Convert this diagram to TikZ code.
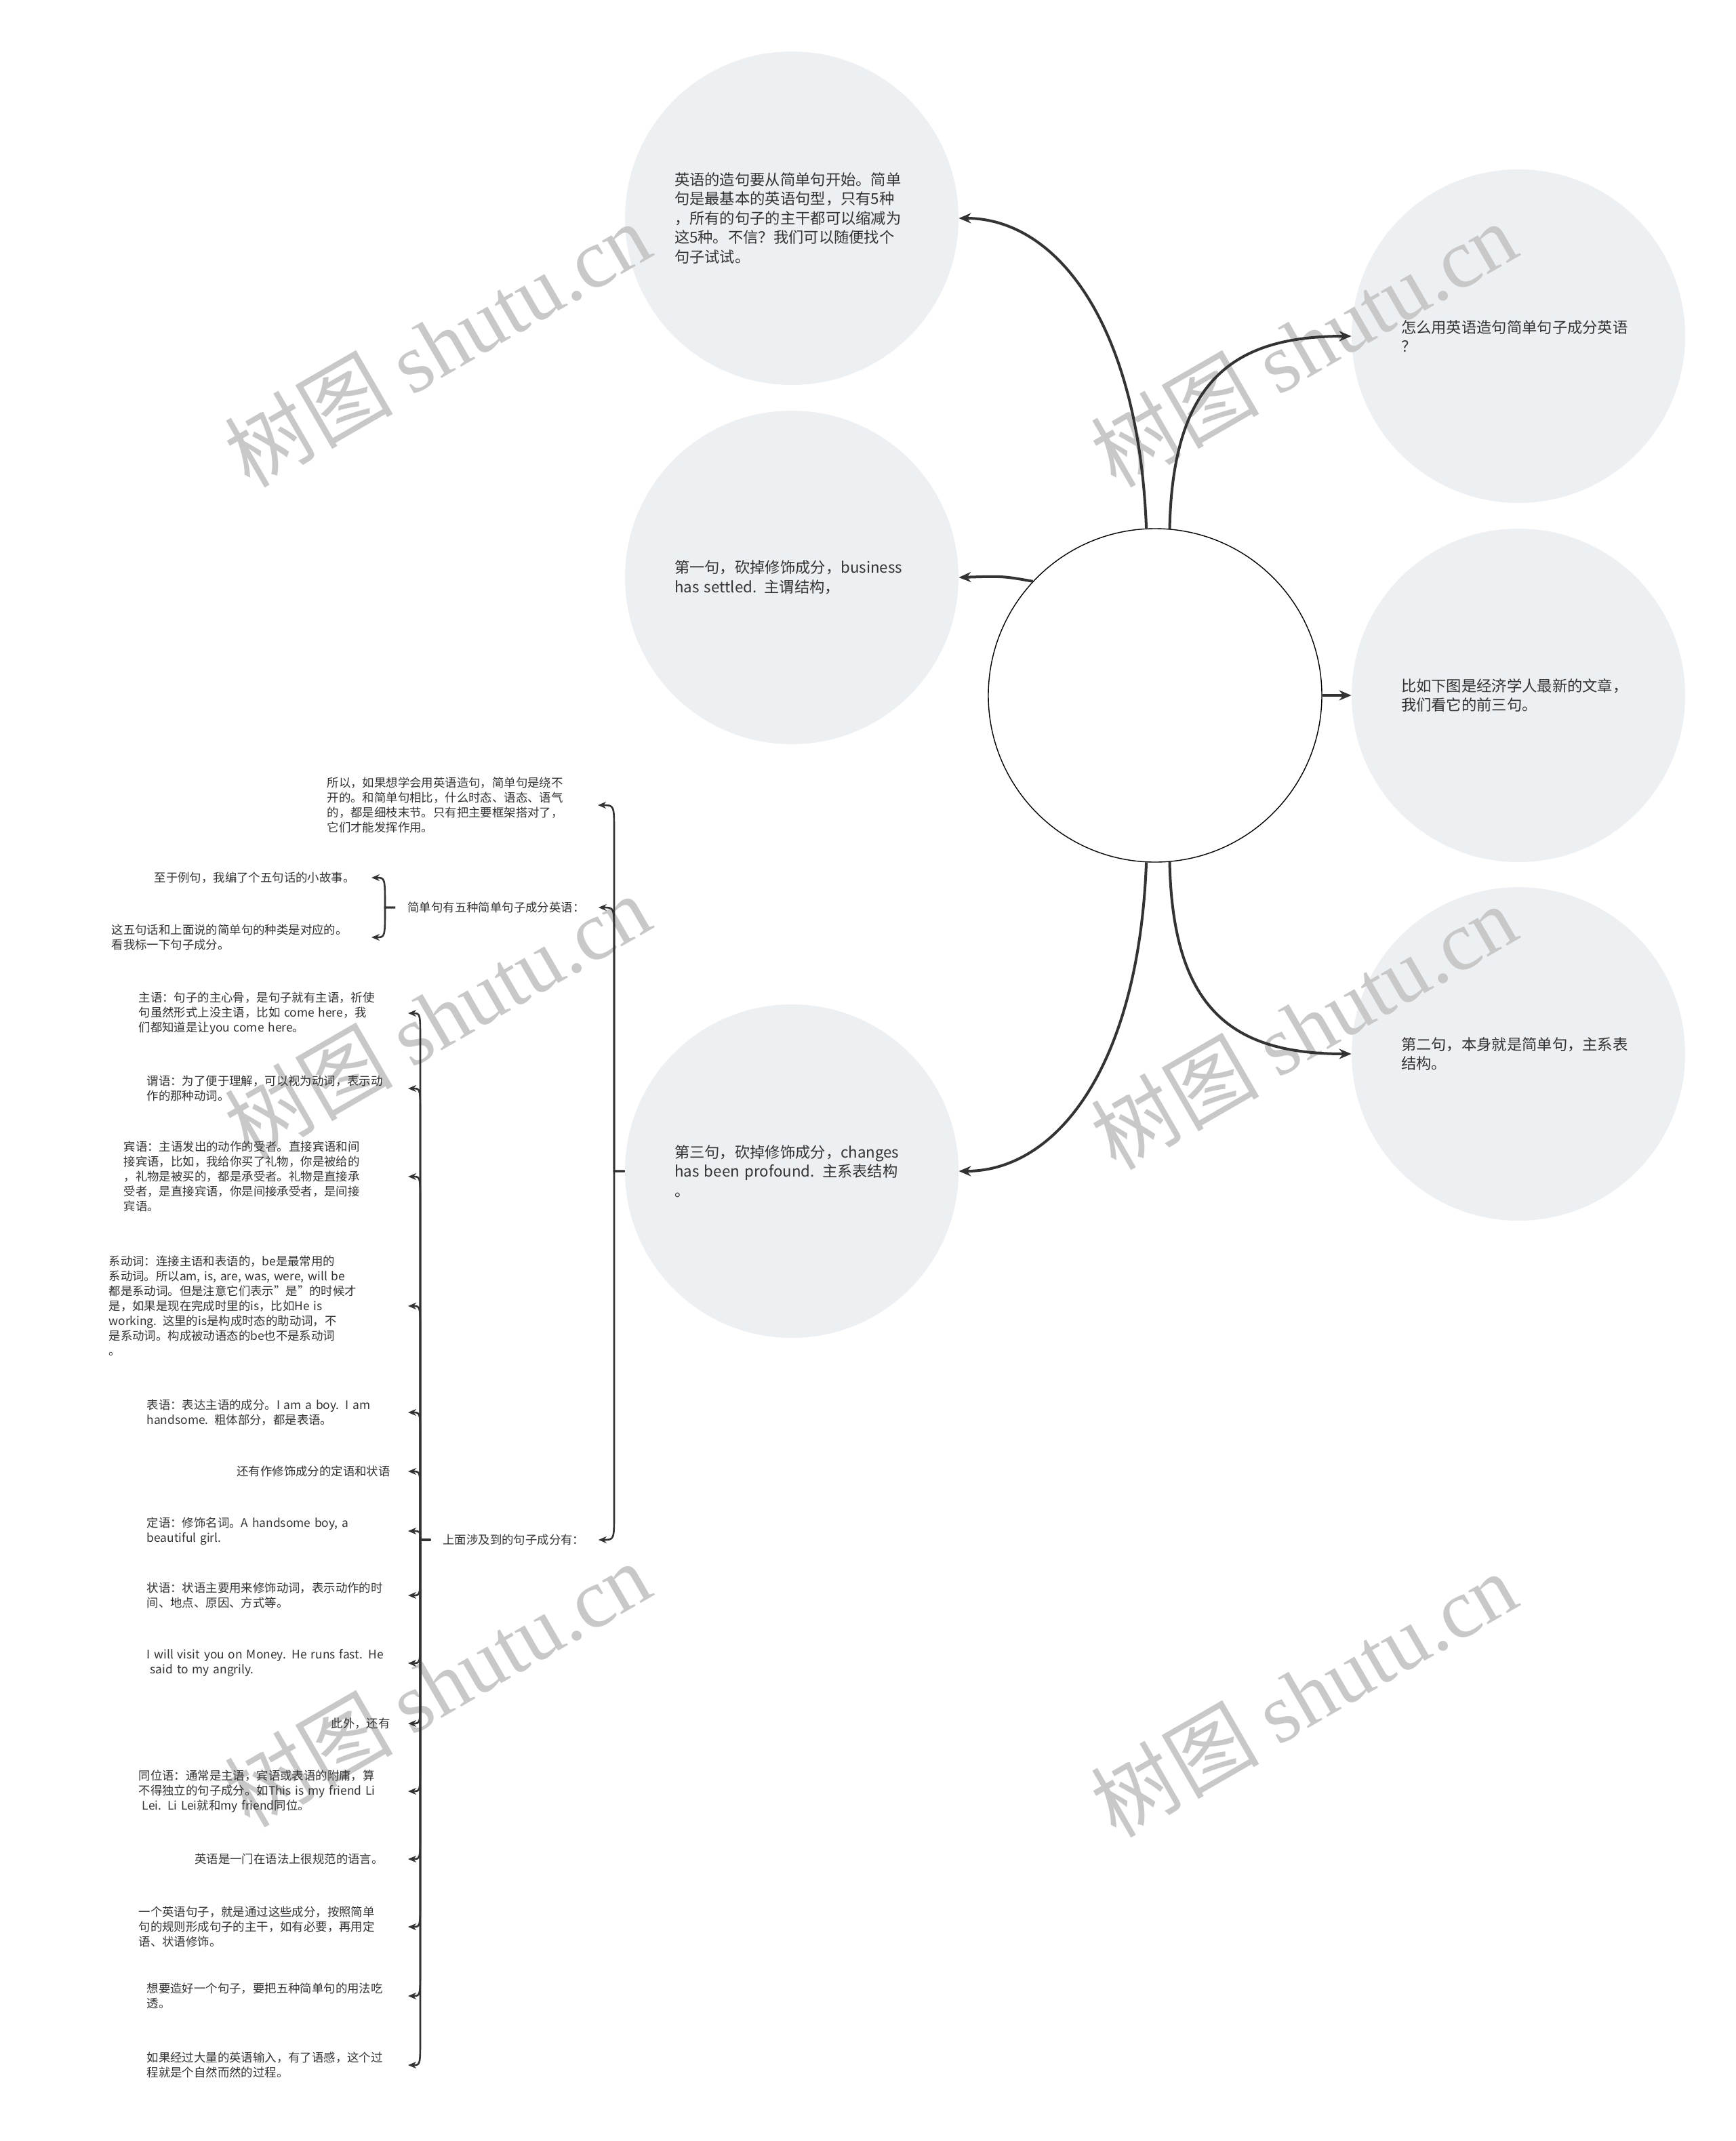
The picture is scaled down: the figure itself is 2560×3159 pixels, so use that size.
\documentclass[tikz,border=0pt]{standalone}
\usepackage{fontspec}
\setmainfont{Noto Sans CJK SC}
\newfontfamily\wmcjk{Noto Sans CJK SC}
\newfontfamily\wmlatin{Liberation Serif}
\usetikzlibrary{arrows.meta}
\pgfdeclarelayer{bglayer}
\pgfdeclarelayer{wmlayer}
\pgfsetlayers{bglayer,wmlayer,main}
\definecolor{bubblefill}{RGB}{237,240,243}
\definecolor{ink}{RGB}{51,51,51}
\definecolor{wmgray}{RGB}{200,200,200}
\begin{document}
\begin{tikzpicture}[x=0.5pt,y=-0.5pt,
  bubble/.style={circle, minimum size=246pt, inner sep=0pt, text width=173pt, align=left, text=ink, font=\fontsize{11.15pt}{14.25pt}\selectfont},
  hubnode/.style={circle, draw=black, line width=0.7pt, fill=white, minimum size=246pt, inner sep=0pt},
  leaf/.style={inner sep=0pt, text=ink, font=\fontsize{8.7pt}{11pt}\selectfont, align=left},
  leafr/.style={inner ysep=0pt, text=ink, font=\fontsize{8.7pt}{11pt}\selectfont, align=right},
  conn/.style={draw=ink, line width=2pt, -{Stealth[length=9pt,width=7.5pt]}},
  brk/.style={draw=ink, line width=1.3pt, -{Stealth[length=6pt,width=5pt]}},
  wmark/.style={text=wmgray, rotate=30, font=\fontsize{62pt}{62pt}\selectfont, inner sep=0pt}
]
\useasboundingbox (0,0) rectangle (2560,3159);
\begin{pgfonlayer}{bglayer}
\fill[white] (0,0) rectangle (2560,3159);
\end{pgfonlayer}

% central circle
\node[hubnode] (cc) at (1704,1026) {};

% satellite circles
\node[bubble] (c1) at (1168,322) {英语的造句要从简单句开始。简单\\句是最基本的英语句型，只有5种\\，所有的句子的主干都可以缩减为\\这5种。不信？我们可以随便找个\\句子试试。};
\node[bubble] (c2) at (1168,852) {第一句，砍掉修饰成分，business\\has settled. 主谓结构，};
\node[bubble] (c3) at (1168,1728) {第三句，砍掉修饰成分，changes\\has been profound. 主系表结构\\。};
\node[bubble] (c4) at (2240,496) {怎么用英语造句简单句子成分英语\\？};
\node[bubble] (c5) at (2240,1026) {比如下图是经济学人最新的文章，\\我们看它的前三句。};
\node[bubble] (c6) at (2240,1555) {第二句，本身就是简单句，主系表\\结构。};

\begin{pgfonlayer}{bglayer}
\foreach \c in {c1,c2,c3,c4,c5,c6}
  \fill[bubblefill] (\c.center) circle[radius=123pt];
\end{pgfonlayer}

% central connectors
\draw[conn] (cc.93) .. controls (1680,480) and (1560,322) .. (c1.east);
\draw[conn] (cc.137) .. controls (1480,850) .. (c2.east);
\draw[conn] (cc.267) .. controls (1680,1572) and (1560,1728) .. (c3.east);
\draw[conn] (cc.85) .. controls (1730,560) and (1820,496) .. (c4.west);
\draw[conn] (cc.east) -- (c5.west);
\draw[conn] (cc.275) .. controls (1730,1492) and (1820,1555) .. (c6.west);

% first level of the left tree
\node[leaf, anchor=east, text width=199.5pt] (so) at (882,1188) {所以，如果想学会用英语造句，简单句是绕不\\开的。和简单句相比，什么时态、语态、语气\\的，都是细枝末节。只有把主要框架搭对了，\\它们才能发挥作用。};
\node[leaf, anchor=west, inner xsep=9pt, text width=131.5pt] (pa) at (583,1339) {简单句有五种简单句子成分英语：};
\node[leaf, anchor=west, inner xsep=9pt, text width=105.5pt] (pb) at (635,2272) {上面涉及到的句子成分有：};

\draw[brk] (c3.west) -- (906,1728) -- (906,1228) .. controls (906,1188) .. (so.east);
\draw[brk] (c3.west) -- (906,1728) -- (906,1379) .. controls (906,1339) .. (pa.east);
\draw[brk] (c3.west) -- (906,1728) -- (906,2232) .. controls (906,2272) .. (pb.east);

% children of pa
\node[leaf, anchor=east, text width=160pt] (a1) at (548,1295) {至于例句，我编了个五句话的小故事。};
\node[leaf, anchor=east, text width=191.5pt] (a2) at (548,1383) {这五句话和上面说的简单句的种类是对应的。\\看我标一下句子成分。};
\draw[brk] (pa.west) -- (568,1339) .. controls (568,1295) .. (a1.east);
\draw[brk] (pa.west) -- (568,1339) .. controls (568,1383) .. (a2.east);

% children of pb
\node[leaf, anchor=east, text width=198.5pt] (b1) at (602,1495) {主语：句子的主心骨，是句子就有主语，祈使\\句虽然形式上没主语，比如 come here，我\\们都知道是让you come here。};
\node[leaf, anchor=east, text width=192.5pt] (b2) at (602,1606) {谓语：为了便于理解，可以视为动词，表示动\\作的那种动词。};
\node[leaf, anchor=east, text width=209.5pt] (b3) at (602,1736) {宾语：主语发出的动作的受者。直接宾语和间\\接宾语，比如，我给你买了礼物，你是被给的\\，礼物是被买的，都是承受者。礼物是直接承\\受者，是直接宾语，你是间接承受者，是间接\\宾语。};
\node[leaf, anchor=east, text width=220.5pt] (b4) at (602,1927) {系动词：连接主语和表语的，be是最常用的\\系动词。所以am, is, are, was, were, will be\\都是系动词。但是注意它们表示"是"的时候才\\是，如果是现在完成时里的is，比如He is\\working. 这里的is是构成时态的助动词，不\\是系动词。构成被动语态的be也不是系动词\\。};
\node[leaf, anchor=east, text width=192.5pt] (b5) at (602,2084) {表语：表达主语的成分。I am a boy. I am\\handsome. 粗体部分，都是表语。};
\node[leafr, anchor=east, inner xsep=13pt] (b6) at (602,2171) {还有作修饰成分的定语和状语};
\node[leaf, anchor=east, text width=192.5pt] (b7) at (602,2259) {定语：修饰名词。A handsome boy, a\\beautiful girl.};
\node[leaf, anchor=east, text width=192.5pt] (b8) at (602,2354) {状语：状语主要用来修饰动词，表示动作的时\\间、地点、原因、方式等。};
\node[leaf, anchor=east, text width=192.5pt] (b9) at (602,2454) {I will visit you on Money. He runs fast. He\\\hspace*{0.3em}said to my angrily.};
\node[leafr, anchor=east, inner xsep=13pt] (b10) at (602,2543) {此外，还有};
\node[leaf, anchor=east, text width=198.5pt] (b11) at (602,2643) {同位语：通常是主语，宾语或表语的附庸，算\\不得独立的句子成分。如This is my friend Li\\\hspace*{0.3em}Lei. Li Lei就和my friend同位。};
\node[leafr, anchor=east, inner xsep=18pt] (b12) at (602,2743) {英语是一门在语法上很规范的语言。};
\node[leaf, anchor=east, text width=198.5pt] (b13) at (602,2843) {一个英语句子，就是通过这些成分，按照简单\\句的规则形成句子的主干，如有必要，再用定\\语、状语修饰。};
\node[leaf, anchor=east, text width=192.5pt] (b14) at (602,2945) {想要造好一个句子，要把五种简单句的用法吃\\透。};
\node[leaf, anchor=east, text width=192.5pt] (b15) at (602,3047) {如果经过大量的英语输入，有了语感，这个过\\程就是个自然而然的过程。};

\draw[brk] (pb.west) -- (620,2272) -- (620,1535) .. controls (620,1495) .. (b1.east);
\draw[brk] (pb.west) -- (620,2272) -- (620,1646) .. controls (620,1606) .. (b2.east);
\draw[brk] (pb.west) -- (620,2272) -- (620,1776) .. controls (620,1736) .. (b3.east);
\draw[brk] (pb.west) -- (620,2272) -- (620,1967) .. controls (620,1927) .. (b4.east);
\draw[brk] (pb.west) -- (620,2272) -- (620,2124) .. controls (620,2084) .. (b5.east);
\draw[brk] (pb.west) -- (620,2272) -- (620,2211) .. controls (620,2171) .. (b6.east);
\draw[brk] (pb.west) -- (620,2272) .. controls (620,2259) .. (b7.east);
\draw[brk] (pb.west) -- (620,2272) -- (620,2314) .. controls (620,2354) .. (b8.east);
\draw[brk] (pb.west) -- (620,2272) -- (620,2414) .. controls (620,2454) .. (b9.east);
\draw[brk] (pb.west) -- (620,2272) -- (620,2503) .. controls (620,2543) .. (b10.east);
\draw[brk] (pb.west) -- (620,2272) -- (620,2603) .. controls (620,2643) .. (b11.east);
\draw[brk] (pb.west) -- (620,2272) -- (620,2703) .. controls (620,2743) .. (b12.east);
\draw[brk] (pb.west) -- (620,2272) -- (620,2803) .. controls (620,2843) .. (b13.east);
\draw[brk] (pb.west) -- (620,2272) -- (620,2905) .. controls (620,2945) .. (b14.east);
\draw[brk] (pb.west) -- (620,2272) -- (620,3007) .. controls (620,3047) .. (b15.east);

% watermarks
\begin{pgfonlayer}{wmlayer}
\node[wmark] (wm1) at (645,508) {{\wmcjk 树图} {\wmlatin shutu.cn}};
\node[wmark] (wm2) at (1923,508) {{\wmcjk 树图} {\wmlatin shutu.cn}};
\node[wmark] (wm3) at (645,1500) {{\wmcjk 树图} {\wmlatin shutu.cn}};
\node[wmark] (wm4) at (1923,1515) {{\wmcjk 树图} {\wmlatin shutu.cn}};
\node[wmark] (wm5) at (645,2485) {{\wmcjk 树图} {\wmlatin shutu.cn}};
\node[wmark] (wm6) at (1923,2500) {{\wmcjk 树图} {\wmlatin shutu.cn}};
\end{pgfonlayer}
\end{tikzpicture}
\end{document}
